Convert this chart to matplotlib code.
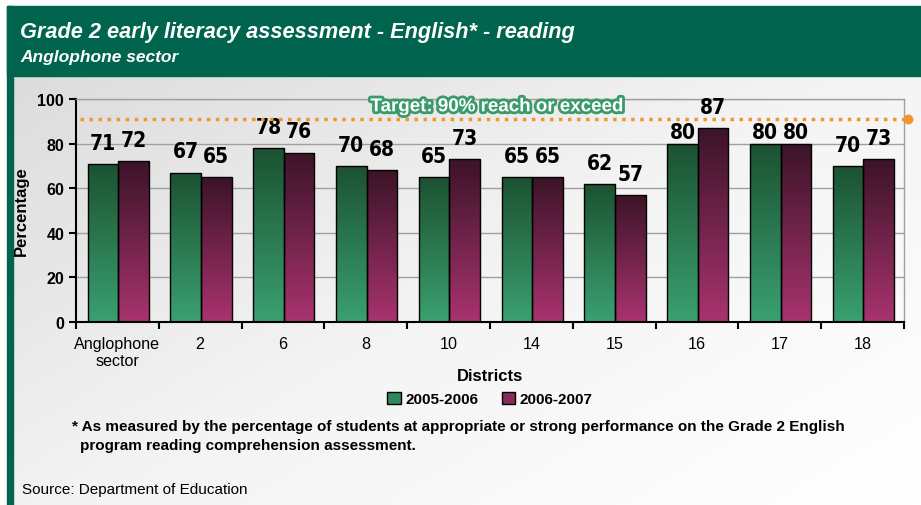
import numpy as np
import matplotlib
matplotlib.use("Agg")
import matplotlib.pyplot as plt
from matplotlib.colors import LinearSegmentedColormap
from matplotlib.patches import Rectangle
import matplotlib.patheffects as pe

plt.rcParams["font.family"] = ["Liberation Sans", "DejaVu Sans"]

# data
districts = ["Anglophone\nsector", "2", "6", "8", "10", "14", "15", "16", "17", "18"]
y2005 = [71, 67, 78, 70, 65, 65, 62, 80, 80, 70]
y2006 = [72, 65, 76, 68, 73, 65, 57, 87, 80, 73]
series_labels = ["2005-2006", "2006-2007"]
target = 91
target_text = "Target: 90% reach or exceed"

HEADER = "#00644e"
GREEN_CM = LinearSegmentedColormap.from_list("g", ["#3aa070", "#1c5232"])
MAROON_CM = LinearSegmentedColormap.from_list("m", ["#a8336e", "#3c1428"])

fig = plt.figure(figsize=(9.21, 5.06), dpi=100)

# background: grey gradient panel with green header and left strip
bg = fig.add_axes([0, 0, 1, 1], zorder=-10)
bg.set_xlim(0, 921)
bg.set_ylim(506, 0)
bg.axis("off")
gx, gy = np.meshgrid(np.linspace(0, 1, 200), np.linspace(0, 1, 120))
grad = 0.55 * gx + 0.45 * gy
bg.imshow(grad, extent=[13, 921, 506, 77], cmap=LinearSegmentedColormap.from_list(
    "bg", ["#dcdcdc", "#f4f4f4", "#ffffff"]), aspect="auto", zorder=0)
bg.add_patch(Rectangle((0, 0), 921, 7, color="white", zorder=1))
bg.add_patch(Rectangle((7, 7), 914, 70, color=HEADER, zorder=1))
bg.add_patch(Rectangle((7, 7), 6, 499, color=HEADER, zorder=1))
bg.text(20, 32, "Grade 2 early literacy assessment - English* - reading", color="white",
        fontsize=15.7, fontweight="bold", fontstyle="italic", va="center")
bg.text(20, 57, "Anglophone sector", color="white", fontsize=12.5,
        fontweight="bold", fontstyle="italic", va="center")
bg.text(72, 427, "* As measured by the percentage of students at appropriate or strong "
        "performance on the Grade 2 English", fontsize=11, fontweight="bold", va="center")
bg.text(80, 446, "program reading comprehension assessment.", fontsize=11,
        fontweight="bold", va="center")
bg.text(22, 490, "Source: Department of Education", fontsize=11, va="center")

ax = fig.add_axes([76 / 921, 1 - 323 / 506, 828 / 921, 223 / 506])
ax.set_facecolor("none")
x = np.arange(len(districts))
w = 0.37

for vals, off, cm in [(y2005, -w / 2 + 0.01, GREEN_CM), (y2006, w / 2 + 0.01, MAROON_CM)]:
    bars = ax.bar(x + off, vals, width=w, color="none", edgecolor="black", linewidth=1.0, zorder=3)
    for b, v in zip(bars, vals):
        x0, x1 = b.get_x(), b.get_x() + b.get_width()
        im = ax.imshow(np.linspace(0, 1, 100).reshape(-1, 1), extent=[x0, x1, 0, v],
                       origin="lower", cmap=cm, aspect="auto", zorder=2)
        im.set_clip_path(b)
        dy = 0.5 if v == 80 else 5
        ax.text(b.get_x() + b.get_width() / 2, v + dy, str(v), ha="center", va="bottom",
                fontsize=15, fontweight="bold", family="DejaVu Sans",
                fontstretch="condensed", zorder=4)

ax.set_xlim(-0.5, len(districts) - 0.5)
ax.set_ylim(0, 100)
ax.set_yticks(range(0, 101, 20))
ax.grid(axis="y", color="#a0a0a0", linewidth=1.0, zorder=0)
ax.set_axisbelow(True)

ax.set_xticks(x)
ax.set_xticklabels(districts, fontsize=11.6)
ax.set_xticks(np.arange(-0.5, len(districts) - 0.4, 1), minor=True)
ax.tick_params(axis="x", which="major", length=0, pad=10)
ax.tick_params(axis="x", which="minor", length=5, width=1.5, direction="out")
ax.tick_params(axis="y", length=5, width=1.5, direction="out", labelsize=11.5)
for lab in ax.get_yticklabels():
    lab.set_fontweight("bold")

for s in ["left", "bottom"]:
    ax.spines[s].set_linewidth(1.5)
    ax.spines[s].set_color("black")
for s in ["top", "right"]:
    ax.spines[s].set_color("#a0a0a0")
    ax.spines[s].set_linewidth(1.0)

ax.set_ylabel("Percentage", fontsize=12, fontweight="bold", labelpad=6)
ax.set_xlabel("Districts", fontsize=12, fontweight="bold", labelpad=0)

# target line
ax.plot([-0.45, len(districts) - 0.45], [target, target], linestyle=(0, (1, 1.6)),
        color="#f0962a", linewidth=2.5, zorder=5, clip_on=False)
ax.plot([len(districts) - 0.45], [target], "o", color="#f0962a", markersize=6,
        zorder=5, clip_on=False)
ax.text(4.58, 96.5, target_text, ha="center", va="center", fontsize=13.5,
        fontweight="bold", color="white", zorder=6,
        path_effects=[pe.withStroke(linewidth=4, foreground="#3a9a6a")])

handles = [Rectangle((0, 0), 1, 1, facecolor="#2e8a5a", edgecolor="black"),
           Rectangle((0, 0), 1, 1, facecolor="#8a2a5a", edgecolor="black")]
fig.legend(handles, series_labels, loc="center", bbox_to_anchor=(490 / 921, 1 - 400 / 506),
           ncol=2, frameon=False, handlelength=0.9, handleheight=0.9, handletextpad=0.3,
           columnspacing=1.5, prop={"weight": "bold", "size": 11})

fig.savefig("out.png", dpi=100)
